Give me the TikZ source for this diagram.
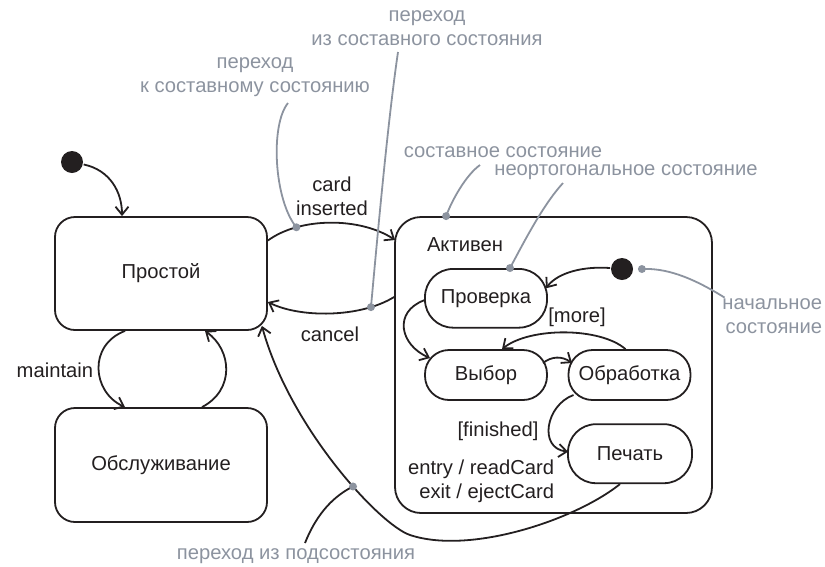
\documentclass[tikz,border=0pt]{standalone}
\usepackage{fontspec}
\setmainfont{Liberation Sans}
\usetikzlibrary{arrows.meta,calc}
\definecolor{anno}{HTML}{8C939F}
\definecolor{ink}{HTML}{231F20}
\begin{document}
\begin{tikzpicture}[x=1pt,y=-1pt,
  font=\fontsize{20.2}{24}\selectfont,
  line width=1.8pt, draw=ink, text=ink,
  box/.style={draw=ink, rectangle, rounded corners=20pt, minimum width=212pt, minimum height=113pt},
  sub/.style={draw=ink, rectangle, minimum width=122pt, inner sep=0pt},
  init/.style={circle, fill=ink, minimum size=22pt, inner sep=0pt},
  trans/.style={draw=ink, -{Straight Barb[length=8pt,width=13pt]}},
  note/.style={text=anno, align=center, inner sep=0pt},
  noteline/.style={draw=anno, line width=1.8pt},
  dot/.style={circle, fill=anno, minimum size=8pt, inner sep=0pt},
  lbl/.style={align=center, inner sep=0pt}
]
\useasboundingbox (0,0) rectangle (825,566);

% states
\node[box] (prost) at (161,273.5) {Простой};
\node[box, minimum height=114pt] (obsl) at (161,465) {Обслуживание};
\node[init] (i1) at (72,162) {};
\node[draw=ink, rectangle, rounded corners=26pt, minimum width=317pt, minimum height=296pt] (act) at (553.5,365) {};
\node[lbl] (actl) at (465,245) {Активен};
\node[sub, rounded corners=28pt, minimum height=58.7pt] (prov) at (486,298.3) {Проверка};
\node[sub, rounded corners=24pt, minimum height=50pt] (vyb) at (486,375) {Выбор};
\node[sub, rounded corners=24pt, minimum height=50pt] (obr) at (629.5,375) {Обработка};
\node[sub, rounded corners=28pt, minimum height=59pt, minimum width=124pt] (pech) at (630,453.7) {Печать};
\node[init] (i2) at (622,269) {};
\node[lbl, align=right, anchor=east] (entry) at (555,481.5) {entry / readCard\\exit / ejectCard};

% outer transitions
\draw[trans] (i1) .. controls (110,170) and (122,192) .. ($(prost.north)+(-39,0)$);
\draw[trans] ($(prost.south)+(-36,0)$) .. controls (88,345) and (92,392) .. ($(obsl.north)+(-36,0)$);
\node[lbl, anchor=east] (lmaint) at (94,370) {maintain};
\draw[trans] ($(obsl.north)+(41,0)$) .. controls (235,390) and (232,350) .. ($(prost.south)+(44,0)$);
\draw[trans] ($(prost.east)+(0,-33)$) .. controls (300,217) and (360,217) .. ($(act.west)+(1,-125)$) coordinate[pos=0.25] (pcard);
\node[lbl] (lcard) at (332,196) {card\\inserted};
\draw[trans] ($(act.west)+(0,-68)$) .. controls (360,318) and (300,318) .. ($(prost.east)+(0,28.5)$) coordinate[pos=0.2] (pcancel);
\node[lbl] (lcancel) at (330,334) {cancel};

% inner transitions
\draw[trans] (i2) .. controls (585,266) and (558,272) .. ($(prov.center)+(60,-10)$);
\draw[trans] ($(prov.west)+(0,2)$) .. controls (393,312) and (400,345) .. ($(vyb.center)+(-56,-17)$);
\draw[trans] ($(obr.north)+(-4,0)$) .. controls (600,327) and (530,327) .. ($(vyb.north)+(16,0)$);
\node[lbl] (lmore) at (577,317) {[more]};
\draw[trans] ($(vyb.center)+(57,-12)$) .. controls (552,356) and (562,356) .. ($(obr.center)+(-57.5,-12)$);
\draw[trans] ($(obr.center)+(-56,20)$) .. controls (546,405) and (538,448) .. ($(pech.west)+(1,-2)$);
\node[lbl] (lfin) at (498,431) {[finished]};
\draw[trans] ($(pech.south)+(-10,0)$) .. controls (575,520) and (470,555) .. (410,535)
  .. controls (380,525) and (290,428) .. ($(prost.south east)+(-6,-5)$) coordinate[pos=0.4] (psub);

% annotations
\coordinate (pact) at ($(act.north west)+(52,0)$);
\coordinate (pprov) at ($(prov.north)+(24,0)$);
\coordinate (pinit) at ($(i2.east)+(8,0)$);
\node[note] (n1) at (255,77) {переход\\к составному состоянию};
\node[note] (n2) at (427,28) {переход\\из составного состояния};
\node[note] (n3) at (503,152) {составное состояние};
\node[note] (n4) at (626,172) {неортогональное состояние};
\node[note, align=right, anchor=east] (n5) at (823,316) {начальное\\состояние};
\node[note] (n6) at (296,556) {переход из подсостояния};

\draw[noteline] ($(n1.center)+(33,26)$) .. controls (270,125) and (274,200) .. (pcard);
\draw[noteline] ($(n2.center)+(-29,24)$) .. controls (388,120) and (378,230) .. (pcancel);
\draw[noteline] ($(n3.center)+(-23,13)$) .. controls (466,175) and (452,200) .. (pact);
\draw[noteline] ($(n4.center)+(-63,11)$) .. controls (543,205) and (525,240) .. (pprov);
\draw[noteline] ($(n5.north west)+(3,0)$) .. controls (690,276) and (665,268) .. (pinit);
\draw[draw=ink] ($(n6.center)+(9,-13)$) .. controls (315,518) and (330,498) .. (psub);

\node[dot] (dcard) at (pcard) {};
\node[dot] (dcancel) at (pcancel) {};
\node[dot] (dact) at (pact) {};
\node[dot] (dprov) at (pprov) {};
\node[dot] (dinit) at (pinit) {};
\node[dot] (dsub) at (psub) {};
\end{tikzpicture}
\end{document}
